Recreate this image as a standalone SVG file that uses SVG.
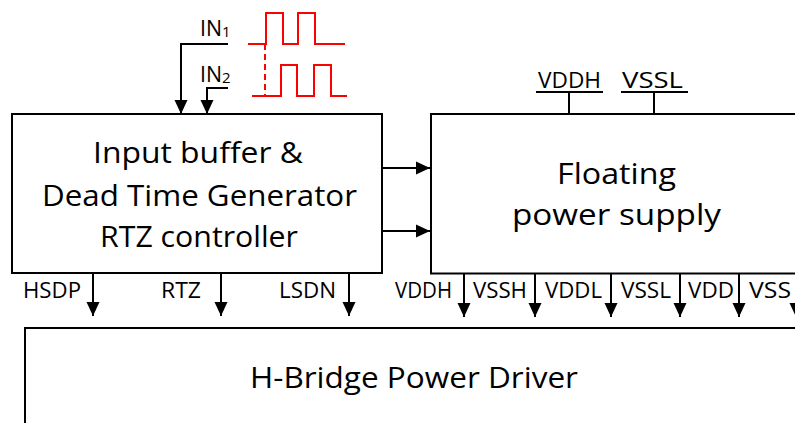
<svg xmlns="http://www.w3.org/2000/svg" width="795" height="423" viewBox="0 0 795 423">
<style>
.box{fill:#fff;stroke:#000;stroke-width:2}
.ln{fill:none;stroke:#000;stroke-width:2}
.red{fill:none;stroke:#ff0000;stroke-width:2}
.big{font-family:"Open Sans","Liberation Sans",sans-serif;font-size:29px;fill:#000}
.sm{font-family:"Open Sans","Liberation Sans",sans-serif;font-size:21px;fill:#000}
.sub{font-family:"Open Sans","Liberation Sans",sans-serif;font-size:15px;fill:#000}
</style>
<defs>
<marker id="ah" viewBox="0 0 14 14" refX="14" refY="7" markerWidth="14" markerHeight="14" markerUnits="userSpaceOnUse" orient="auto">
<path d="M0,0.5 L14,7 L0,13.5 z" fill="#000"/>
</marker>
</defs>
<rect width="795" height="423" fill="#fff"/>

<g id="inputs">
<text class="sm" x="200" y="36" textLength="22" lengthAdjust="spacingAndGlyphs">IN</text><text class="sub" x="222" y="37">1</text>
<text class="sm" x="200" y="82" textLength="22" lengthAdjust="spacingAndGlyphs">IN</text><text class="sub" x="222" y="83">2</text>
<path class="red" d="M248,44 H266 V13 H283 V44 H298 V13 H315 V44 H345"/>
<path class="red" d="M252,96 H281 V65 H297 V96 H314 V65 H331 V96 H347"/>
<line class="red" x1="265" y1="44" x2="265" y2="96" stroke-dasharray="6,4"/>
</g>

<g id="controller">
<rect class="box" x="12" y="114" width="370" height="159"/>
<text class="big" x="93" y="163" textLength="210" lengthAdjust="spacingAndGlyphs">Input buffer &amp;</text>
<text class="big" x="42" y="206" textLength="315" lengthAdjust="spacingAndGlyphs">Dead Time Generator</text>
<text class="big" x="100" y="247" textLength="198" lengthAdjust="spacingAndGlyphs">RTZ controller</text>
</g>

<g id="supply">
<rect class="box" x="431" y="114" width="400" height="159.5"/>
<text class="big" x="557" y="184" textLength="119" lengthAdjust="spacingAndGlyphs">Floating</text>
<text class="big" x="512" y="225" textLength="209" lengthAdjust="spacingAndGlyphs">power supply</text>
<text class="sm" x="538" y="88" textLength="63" lengthAdjust="spacingAndGlyphs">VDDH</text>
<text class="sm" x="622" y="88" textLength="61" lengthAdjust="spacingAndGlyphs">VSSL</text>
</g>

<g id="driver">
<rect class="box" x="25" y="328" width="800" height="120"/>
<text class="big" x="250" y="388" textLength="328" lengthAdjust="spacingAndGlyphs">H-Bridge Power Driver</text>
</g>

<g id="connectors">
<path class="ln" d="M228,44 H181 V114" marker-end="url(#ah)"/>
<path class="ln" d="M228,88 H207 V114" marker-end="url(#ah)"/>
<path class="ln" d="M536,92 H603 M569,92 V114"/>
<path class="ln" d="M621,92 H688 M654,92 V114"/>
<line class="ln" x1="382" y1="168" x2="430" y2="168" marker-end="url(#ah)"/>
<line class="ln" x1="382" y1="231" x2="430" y2="231" marker-end="url(#ah)"/>
<line class="ln" x1="93" y1="273" x2="93" y2="316" marker-end="url(#ah)"/>
<line class="ln" x1="221" y1="273" x2="221" y2="316" marker-end="url(#ah)"/>
<line class="ln" x1="349" y1="273" x2="349" y2="316" marker-end="url(#ah)"/>
<line class="ln" x1="464" y1="273" x2="464" y2="317" marker-end="url(#ah)"/>
<line class="ln" x1="535" y1="273" x2="535" y2="317" marker-end="url(#ah)"/>
<line class="ln" x1="611" y1="273" x2="611" y2="317" marker-end="url(#ah)"/>
<line class="ln" x1="680" y1="273" x2="680" y2="317" marker-end="url(#ah)"/>
<line class="ln" x1="739" y1="273" x2="739" y2="317" marker-end="url(#ah)"/>
<line class="ln" x1="796" y1="273" x2="796" y2="317" marker-end="url(#ah)"/>
<text class="sm" x="23" y="298" textLength="58" lengthAdjust="spacingAndGlyphs">HSDP</text>
<text class="sm" x="161" y="298" textLength="40" lengthAdjust="spacingAndGlyphs">RTZ</text>
<text class="sm" x="279" y="298" textLength="57" lengthAdjust="spacingAndGlyphs">LSDN</text>
<text class="sm" x="395" y="298" textLength="57" lengthAdjust="spacingAndGlyphs">VDDH</text>
<text class="sm" x="473" y="298" textLength="54" lengthAdjust="spacingAndGlyphs">VSSH</text>
<text class="sm" x="545" y="298" textLength="57" lengthAdjust="spacingAndGlyphs">VDDL</text>
<text class="sm" x="621" y="298" textLength="50" lengthAdjust="spacingAndGlyphs">VSSL</text>
<text class="sm" x="688" y="298" textLength="46" lengthAdjust="spacingAndGlyphs">VDD</text>
<text class="sm" x="749" y="298" textLength="42" lengthAdjust="spacingAndGlyphs">VSS</text>
</g>
</svg>
